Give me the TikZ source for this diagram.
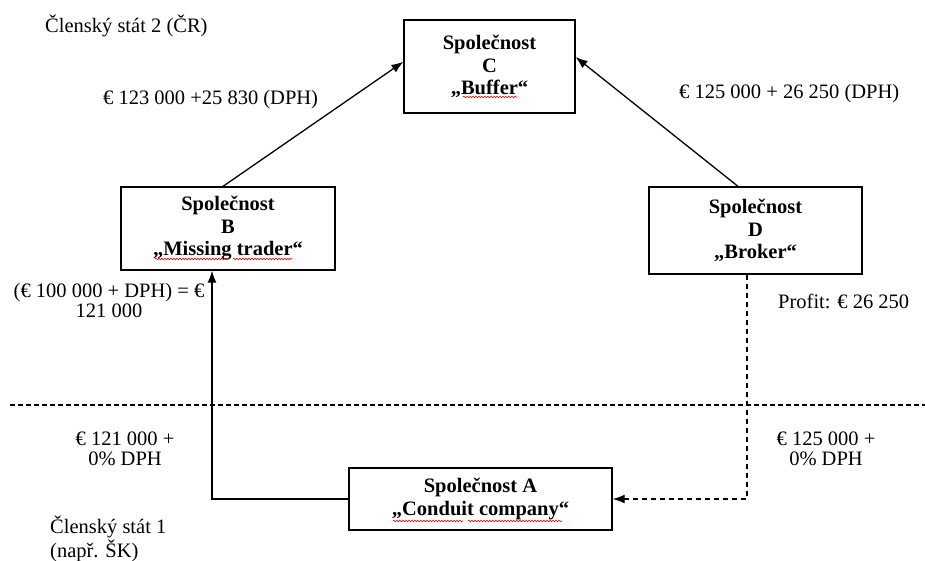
\documentclass[tikz,border=0pt]{standalone}
\usepackage{fontspec}
\setmainfont{Liberation Serif}
\usetikzlibrary{arrows.meta,calc,decorations.pathmorphing}
\begin{document}
\begin{tikzpicture}[x=1pt,y=-1pt,
  every node/.style={font=\fontsize{20.5}{22.5}\selectfont},
  firm/.style={draw,line width=1.3pt,align=center,inner sep=0pt,font=\fontsize{20.5}{22.5}\selectfont\bfseries},
  lbl/.style={align=center,inner sep=0pt,font=\fontsize{20.5}{19.5}\selectfont},
  flow/.style={line width=1.3pt,-{Latex[length=12pt,width=9pt]}},
  dflow/.style={line width=1.2pt,dash pattern=on 5pt off 4pt,-{Latex[length=12pt,width=9pt]}},
  spell/.style={red,line width=0.6pt,decorate,decoration={snake,amplitude=0.8pt,segment length=3pt}}]
\useasboundingbox (0,0) rectangle (925,561);

% boxes
\node[firm,minimum width=171pt,minimum height=93pt] (C) at (489.5,66.5) {Společnost\\C\\„Buffer“};
\node[firm,minimum width=214pt,minimum height=83pt] (B) at (228,228.5) {Společnost\\B\\„Missing trader“};
\node[firm,minimum width=213pt,minimum height=87pt] (D) at (755.5,230.5) {Společnost\\D\\„Broker“};
\node[firm,minimum width=263pt,minimum height=62pt] (A) at (480.5,499) {Společnost A\\„Conduit company“};

% helper coordinates
\coordinate (bx) at (212,0);
\coordinate (dx) at (747,0);
\coordinate (bt) at (223,0);
\coordinate (dt) at (738,0);
\coordinate (cl) at ($(C.north west)!0.45!(C.south west)$);
\coordinate (cr) at ($(C.north east)!0.4!(C.south east)$);

% separator
\coordinate (sepL) at (10,405);
\coordinate (sepR) at (925,405);
\draw[line width=1.1pt,dash pattern=on 5pt off 3pt] (sepL) -- (sepR);

% connectors
\draw[flow] (A.west) -| (B.south -| bx);
\draw[flow] (B.north -| bt) -- (cl);
\draw[flow] (D.north -| dt) -- (cr);
\draw[dflow] (D.south -| dx) |- (A.east);

% labels
\node[anchor=base west,inner sep=0pt] (t2) at (45,33) {Členský stát 2 (ČR)};
\node[anchor=base west,inner sep=0pt] (lbc) at (103,105) {€ 123 000 +25 830 (DPH)};
\node[anchor=base west,inner sep=0pt] (ldc) at (679,99) {€ 125 000 + 26 250 (DPH)};
\node[lbl,anchor=base] (lab) at (109,317) {(€ 100 000 + DPH) = €\\121 000};
\node[anchor=base west,inner sep=0pt] (prof) at (778,308) {Profit: € 26 250};
\node[lbl,anchor=base] (lba) at (125,465) {€ 121 000 +\\0\% DPH};
\node[lbl,anchor=base] (lda) at (826,465) {€ 125 000 +\\0\% DPH};
\node[lbl,anchor=base west,align=left] (t1) at (50,557) {Členský stát 1\\(např. ŠK)};

% spell-check marks
\draw[spell] (155,259) -- (228,259);
\draw[spell] (233,259) -- (292,259);
\draw[spell] (463,97) -- (517,97);
\draw[spell] (393,521) -- (463,521);
\draw[spell] (468,521) -- (562,521);
\end{tikzpicture}
\end{document}
